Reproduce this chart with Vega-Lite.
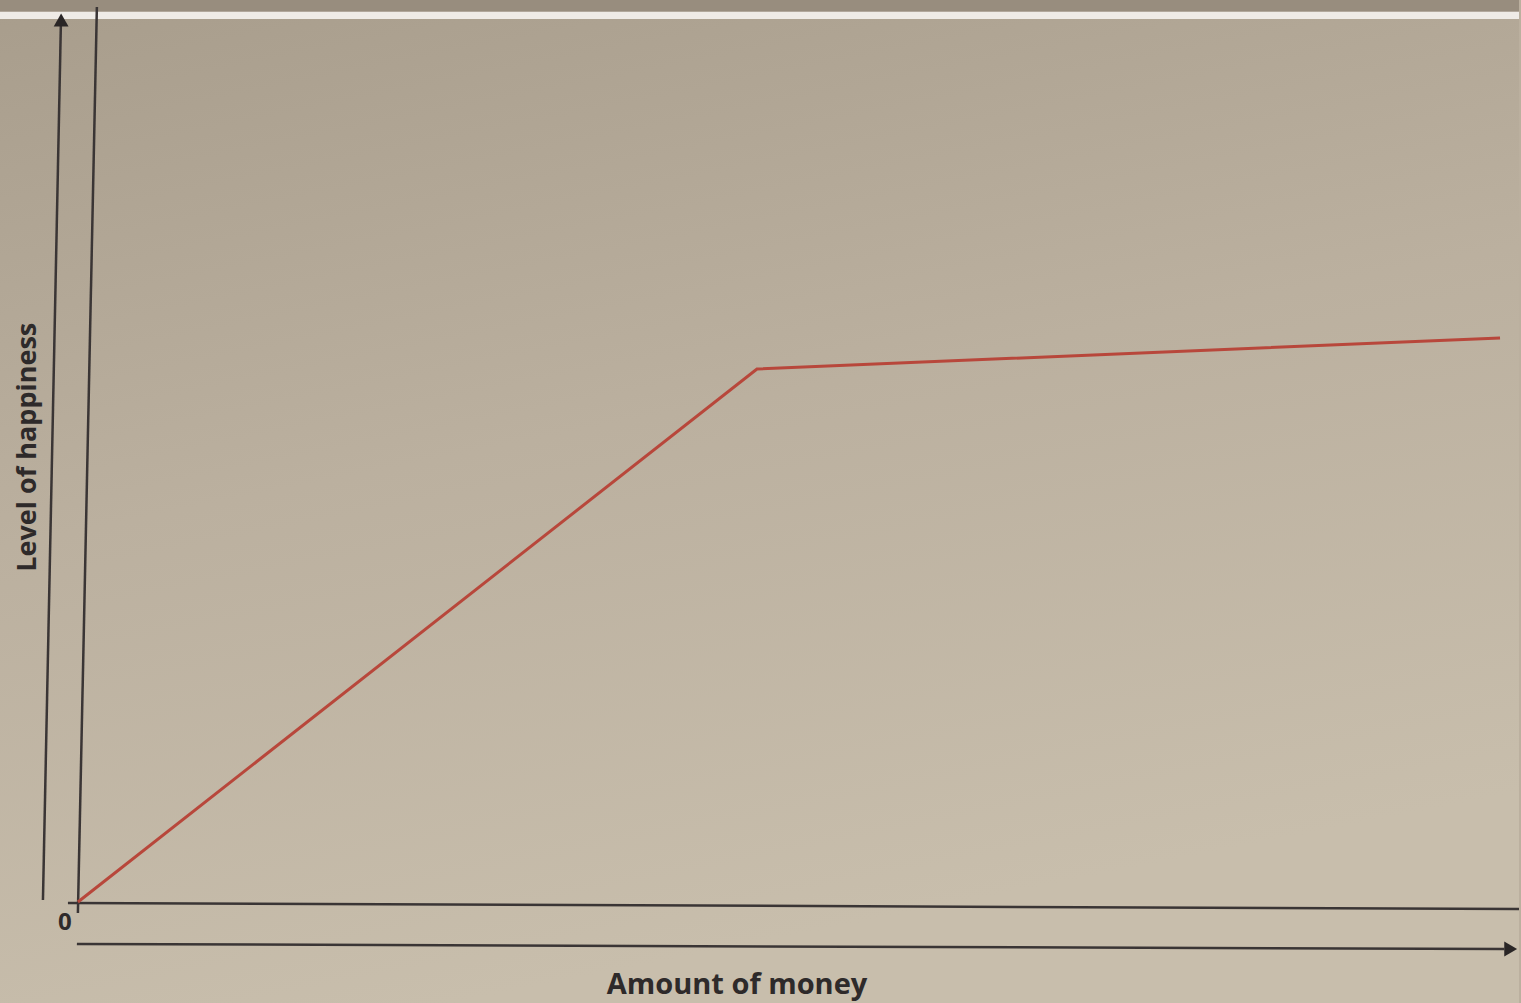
{
  "$schema": "https://vega.github.io/schema/vega-lite/v6.json",
  "autosize": {"type": "fit", "contains": "padding"},
  "width": 1521,
  "height": 1003,
  "padding": 0,
  "background": "#bbb09f",
  "config": {"view": {"stroke": null}},
  "data": {"values": [{"note": "decoration"}]},
  "layer": [
    {
      "mark": {"type": "rect", "color": {"gradient": "linear", "x1": 0, "y1": 0, "x2": 0.3, "y2": 1, "stops": [{"offset": 0, "color": "#a89d8c"}, {"offset": 0.5, "color": "#bbb09f"}, {"offset": 1, "color": "#c8beac"}]}},
      "encoding": {
        "x": {"datum": -5.478, "type": "quantitative", "scale": {"domain": [-5.478, 101.334], "nice": false, "zero": false}, "axis": null},
        "x2": {"datum": 101.334},
        "y": {"datum": -11.35, "type": "quantitative", "scale": {"domain": [-11.35, 101.35], "nice": false, "zero": false}, "axis": null},
        "y2": {"datum": 101.35}
      }
    },
    {
      "mark": {"type": "rect", "color": "#988d7e"},
      "encoding": {
        "x": {"datum": -5.478, "type": "quantitative"},
        "x2": {"datum": 101.334},
        "y": {"datum": 100.03, "type": "quantitative"},
        "y2": {"datum": 101.35}
      }
    },
    {
      "mark": {"type": "rect", "color": "#efebe6"},
      "encoding": {
        "x": {"datum": -5.478, "type": "quantitative"},
        "x2": {"datum": 101.334},
        "y": {"datum": 99.21, "type": "quantitative"},
        "y2": {"datum": 100.03}
      }
    },
    {
      "mark": {"type": "rule", "color": "#3a3535", "strokeWidth": 2.5},
      "encoding": {
        "x": {"datum": 0, "type": "quantitative"},
        "y": {"datum": -1.24, "type": "quantitative"},
        "x2": {"datum": 1.334},
        "y2": {"datum": 100.56}
      }
    },
    {
      "mark": {"type": "rule", "color": "#3a3535", "strokeWidth": 2.5},
      "encoding": {
        "x": {"datum": -2.458, "type": "quantitative"},
        "y": {"datum": 0.22, "type": "quantitative"},
        "x2": {"datum": -1.194},
        "y2": {"datum": 98.9}
      }
    },
    {
      "mark": {"type": "point", "shape": "triangle-up", "filled": true, "color": "#2a2626", "opacity": 1, "size": 220},
      "encoding": {
        "x": {"datum": -1.18, "type": "quantitative"},
        "y": {"datum": 99.1, "type": "quantitative"}
      }
    },
    {
      "mark": {"type": "rule", "color": "#3a3535", "strokeWidth": 2.5},
      "encoding": {
        "x": {"datum": -0.702, "type": "quantitative"},
        "y": {"datum": -0.112, "type": "quantitative"},
        "x2": {"datum": 101.334},
        "y2": {"datum": -0.787}
      }
    },
    {
      "mark": {"type": "rule", "color": "#3a3535", "strokeWidth": 2.5},
      "encoding": {
        "x": {"datum": -0.07, "type": "quantitative"},
        "y": {"datum": -4.72, "type": "quantitative"},
        "x2": {"datum": 100.3},
        "y2": {"datum": -5.28}
      }
    },
    {
      "mark": {"type": "point", "shape": "triangle-right", "filled": true, "color": "#2a2626", "opacity": 1, "size": 220},
      "encoding": {
        "x": {"datum": 100.75, "type": "quantitative"},
        "y": {"datum": -5.28, "type": "quantitative"}
      }
    },
    {
      "data": {"values": [
        {"money": 0, "happiness": 0},
        {"money": 47.75, "happiness": 59.89},
        {"money": 100, "happiness": 63.37}
      ]},
      "mark": {"type": "line", "color": "#b8473b", "strokeWidth": 3},
      "encoding": {
        "x": {"field": "money", "type": "quantitative"},
        "y": {"field": "happiness", "type": "quantitative"}
      }
    },
    {
      "mark": {"type": "text", "text": "0", "font": "Open Sans", "fontSize": 24, "fontWeight": "bold", "color": "#2e2a2a", "align": "center", "baseline": "middle"},
      "encoding": {
        "x": {"datum": -0.913, "type": "quantitative"},
        "y": {"datum": -2.36, "type": "quantitative"}
      }
    },
    {
      "mark": {"type": "text", "text": "Amount of money", "font": "Open Sans", "fontSize": 29, "fontWeight": "bold", "color": "#2e2a2a", "align": "center", "baseline": "middle"},
      "encoding": {
        "x": {"datum": 46.35, "type": "quantitative"},
        "y": {"datum": -9.3, "type": "quantitative"}
      }
    },
    {
      "mark": {"type": "text", "text": "Level of happiness", "font": "Open Sans", "fontSize": 27, "fontWeight": "bold", "color": "#2e2a2a", "align": "center", "baseline": "middle", "angle": 270},
      "encoding": {
        "x": {"datum": -3.51, "type": "quantitative"},
        "y": {"datum": 51.1, "type": "quantitative"}
      }
    }
  ]
}
